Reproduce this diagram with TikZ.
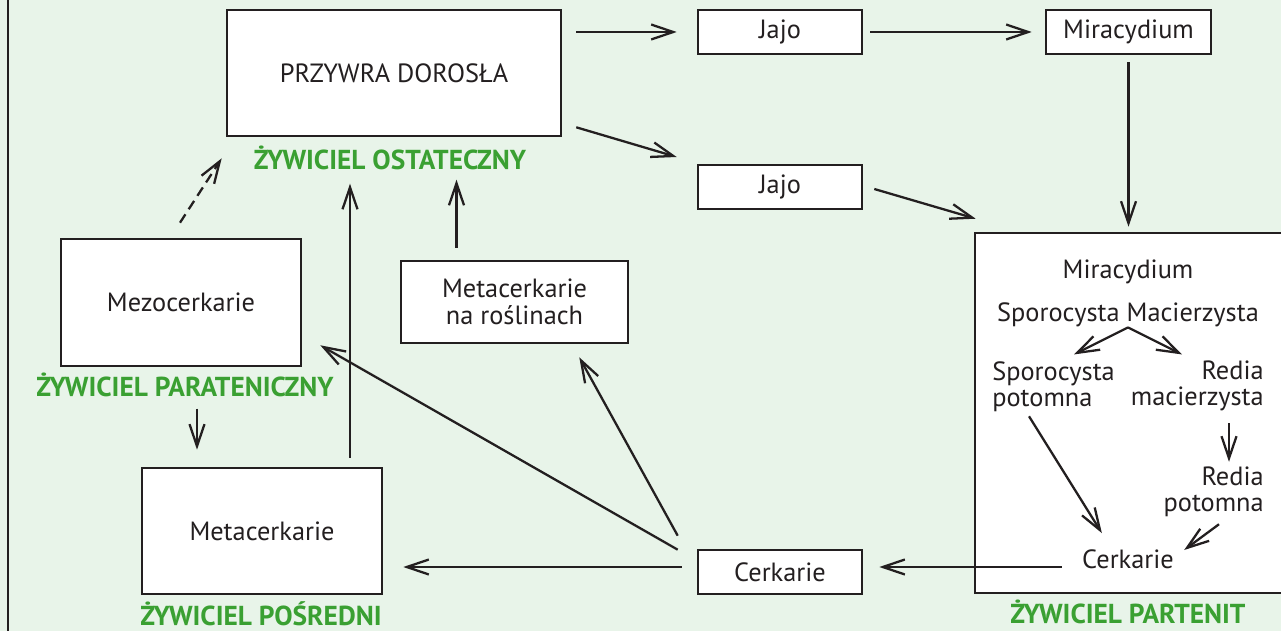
\documentclass[tikz,border=0pt]{standalone}
\usepackage{fontspec}
\setmainfont{PT Sans}
\usetikzlibrary{arrows.meta,positioning}
\definecolor{bggreen}{RGB}{232,244,233}
\definecolor{hostgreen}{RGB}{58,160,50}
\definecolor{ink}{RGB}{35,31,32}

\begin{document}
\begin{tikzpicture}[x=0.02cm,y=-0.02cm]
			\useasboundingbox (0,0) rectangle (1281,631);
			\fill[bggreen] (0,0) rectangle (1281,631);
			\draw[ink, line width=1.4pt] (8,0) -- (8,631);
			% Define the styles
			\tikzstyle{stage} = [draw=ink, fill=white, line width=1.5pt, rectangle, inner sep=0pt, text=ink, align=center, font=\fontsize{15}{15.3}\selectfont];
			\tikzstyle{inbox} = [inner sep=0pt, text=ink, font=\fontsize{15}{14.7}\selectfont];
			\tikzstyle{host} = [inner sep=0pt, anchor=base, text=hostgreen, font=\fontsize{15.6}{16}\selectfont\bfseries];
			\tikzstyle{arr} = [draw=ink, line width=1.3pt, -{Straight Barb[length=4.4mm,width=3mm]}];
			
			% Draw the boxes of the life cycle
			\node[stage, minimum width=6.68cm, minimum height=2.52cm] (adult) at (394,73) {PRZYWRA DOROSŁA};
			\foreach \n/\y in {egg1/32, egg2/187}
			\node[stage, minimum width=3.28cm, minimum height=0.88cm] (\n) at (780,\y) {Jajo};
			\node[stage, minimum width=3.3cm, minimum height=0.88cm] (mira) at (1128.5,32) {Miracydium};
			\node[stage, minimum width=4.8cm, minimum height=2.54cm] (meso) at (181,302.5) {Mezocerkarie};
			\node[stage, minimum width=4.54cm, minimum height=1.64cm] (plant) at (514.5,302) {Metacerkarie\\na roślinach};
			\node[stage, minimum width=4.8cm, minimum height=2.52cm] (meta) at (262,531) {Metacerkarie};
			\node[stage, minimum width=3.28cm, minimum height=0.88cm] (cerc) at (780,572) {Cerkarie};
			\node[stage, minimum width=6.3cm, minimum height=7.2cm] (part) at (1132.5,413) {};
			
			% Stages inside the partenit host
			\node[inbox] (pmira) at (1128,272) {Miracydium};
			\node[inbox] (spm) at (1128,315) {Sporocysta Macierzysta};
			\node[inbox, anchor=west, align=left] (spp) at (992,387) {Sporocysta\\potomna};
			\node[inbox, anchor=east, align=right] (rm) at (1264,386) {Redia\\macierzysta};
			\node[inbox, anchor=east, align=right] (rp) at (1264,492) {Redia\\potomna};
			\node[inbox] (pcerc) at (1128,559) {Cerkarie};
			
			% Host labels
			\node[host] (ost) at (390,170) {ŻYWICIEL OSTATECZNY};
			\node[host] (para) at (185,397) {ŻYWICIEL PARATENICZNY};
			\node[host] (posr) at (261,625) {ŻYWICIEL POŚREDNI};
			\node[host] (parth) at (1128,623) {ŻYWICIEL PARTENIT};
			
			% Arrows of the upper row
			\draw[arr, shorten <=0.28cm, shorten >=0.4cm] (adult.east |- egg1.west) -- (egg1.west);
			\draw[arr] ([shift={(14,-10)}]adult.south east) -- ([shift={(-20,-30)}]egg2.west);
			\draw[arr, shorten <=0.14cm, shorten >=0.26cm] (egg1.east) -- (mira.west);
			\draw[arr, shorten <=0.14cm, shorten >=0.1cm] (mira.south) -- (mira.south |- part.north);
			\draw[arr] ([shift={(11,2)}]egg2.east) -- ([shift={(2,-13)}]part.north west);
			
			% Arrows inside the partenit host
			\draw[arr] (spm.south) -- ++(-54,27);
			\draw[arr] (spm.south) -- ++(54,27);
			\draw[arr] ([shift={(37,4)}]spp.south west) -- ([shift={(20,-16)}]pcerc.north west);
			\draw[arr] ([shift={(-35,12)}]rm.south east) -- ([shift={(-35,-5)}]rp.north east);
			\draw[arr] ([shift={(-45,7)}]rp.south east) -- ([shift={(10,-9)}]pcerc.east);
			
			% Arrows of the lower part
			\draw[arr] ([shift={(-20,8)}]pcerc.west) -- ([shift={(16,-5)}]cerc.east);
			\draw[arr] ([shift={(-15,-5)}]cerc.west) -- ([shift={(20,-5)}]cerc.west -| meta.east);
			\draw[arr] ([shift={(-19,1)}]cerc.north west) -- ([shift={(18,-22)}]meso.south east);
			\draw[arr] ([shift={(-19,-13)}]cerc.north west) -- ([shift={(-50,13)}]plant.south east);
			\draw[arr] ([shift={(-58,-12)}]plant.north) -- ([shift={(-58,9)}]plant.north |- ost.south);
			\draw[arr] ([shift={(88,-9)}]meta.north) -- ([shift={(88,13)}]meta.north |- ost.south);
			\draw[arr, dash pattern=on 0.2cm off 0.12cm] ([shift={(-1,-15)}]meso.north) -- ([shift={(-4,21)}]adult.south west);
			\draw[arr] ([shift={(12,11)}]para.south) -- ([shift={(-65,-17)}]meta.north);
		\end{tikzpicture}
\end{document}
